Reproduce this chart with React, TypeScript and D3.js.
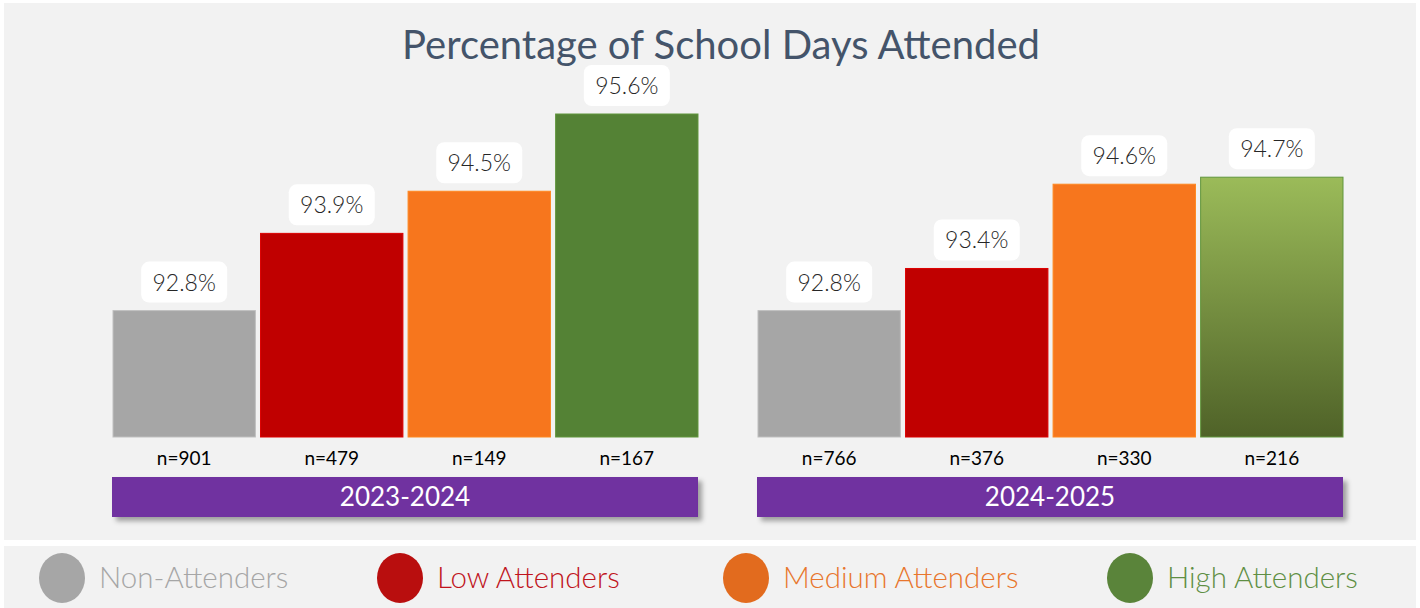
import React, { useEffect } from 'react';
import * as d3 from 'd3';

// chart data
const years = ['2023-2024', '2024-2025'];
const categories = ['Non-Attenders', 'Low Attenders', 'Medium Attenders', 'High Attenders'];
const pct2023 = [92.8, 93.9, 94.5, 95.6];
const pct2024 = [92.8, 93.4, 94.6, 94.7];
const n2023 = [901, 479, 149, 167];
const n2024 = [766, 376, 330, 216];

const barColors = ['#a6a6a6', '#c00000', '#f7761d', '#548235'];
const legendColors = ['#a6a6a6', '#b90e0e', '#e26b1e', '#5a843a'];
const legendText = ['#a6a6a6', '#c0141c', '#e8762d', '#5f8f44'];

const W = 1420;
const H = 608;

export default function App() {
  useEffect(() => {
    document.body.style.margin = '0';
  }, []);

  const groupX = d3.scaleBand<string>()
    .domain(years)
    .range([112, 1343])
    .paddingInner(0.0915);

  const barX = d3.scaleBand<string>()
    .domain(categories)
    .range([1, groupX.bandwidth()])
    .paddingInner(0.035);

  const y = d3.scaleLinear().domain([91, 95.6]).range([437, 114]);

  const rows = [
    { year: years[0], pct: pct2023, n: n2023 },
    { year: years[1], pct: pct2024, n: n2024 },
  ];

  // legend entries flow left to right, not evenly spaced
  const legendX = d3.scaleOrdinal<string, number>()
    .domain(categories)
    .range([62, 400, 746, 1130]);

  const fmt = d3.format('.1f');

  return (
    <svg width={W} height={H} style={{ display: 'block', background: '#fff' }}>
      <defs>
        <linearGradient id="greenGrad" x1="0" y1="0" x2="0" y2="1">
          <stop offset="0%" stopColor="#9bbb59" />
          <stop offset="100%" stopColor="#4f6228" />
        </linearGradient>
        <filter id="shadow" x="-5%" y="-30%" width="115%" height="180%">
          <feDropShadow dx="4" dy="4" stdDeviation="2.5" floodColor="#000" floodOpacity="0.35" />
        </filter>
      </defs>

      {/* panels */}
      <rect x={4} y={3} width={1412} height={537} fill="#f2f2f2" />
      <rect x={4} y={546} width={1412} height={62} fill="#f2f2f2" />

      <text x={721} y={59} textAnchor="middle" fontFamily="Lato" fontSize={40}
        fill="#44546a">Percentage of School Days Attended</text>

      {rows.map((row, gi) => {
        const gx = groupX(row.year) as number;
        return (
          <g key={row.year} transform={`translate(${gx},0)`}>
            {categories.map((c, i) => {
              const bx = barX(c) as number;
              const top = y(row.pct[i]);
              const cx = bx + barX.bandwidth() / 2;
              const fill = gi === 1 && i === 3 ? 'url(#greenGrad)' : barColors[i];
              return (
                <g key={c}>
                  <rect x={bx} y={top} width={barX.bandwidth()} height={y(91) - top}
                    fill={fill} stroke={d3.color(barColors[i])!.brighter(0.4).toString()}
                    strokeWidth={1} />
                  <rect x={cx - 43} y={top - 49} width={86} height={41} rx={8}
                    fill="#ffffff" />
                  <text x={cx} y={top - 20} textAnchor="middle" fontFamily="Lato"
                    fontWeight={300} fontSize={23} fill="#262626">{fmt(row.pct[i])}%</text>
                  <text x={cx} y={465} textAnchor="middle" fontFamily="Lato"
                    fontWeight={400} fontSize={19} fill="#000">n={row.n[i]}</text>
                </g>
              );
            })}
            <rect x={0} y={477} width={groupX.bandwidth()} height={40} fill="#7030a0"
              filter="url(#shadow)" />
            <text x={groupX.bandwidth() / 2} y={506} textAnchor="middle" fontFamily="Lato"
              fontSize={26} fill="#ffffff">{row.year}</text>
          </g>
        );
      })}

      {/* legend */}
      {categories.map((c, i) => {
        const lx = legendX(c);
        return (
          <g key={c}>
            <ellipse cx={lx} cy={578} rx={23} ry={25} fill={legendColors[i]} />
            <text x={lx + 37} y={588} fontFamily="Lato" fontWeight={300} fontSize={29.5}
              fill={legendText[i]}>{c}</text>
          </g>
        );
      })}
    </svg>
  );
}
